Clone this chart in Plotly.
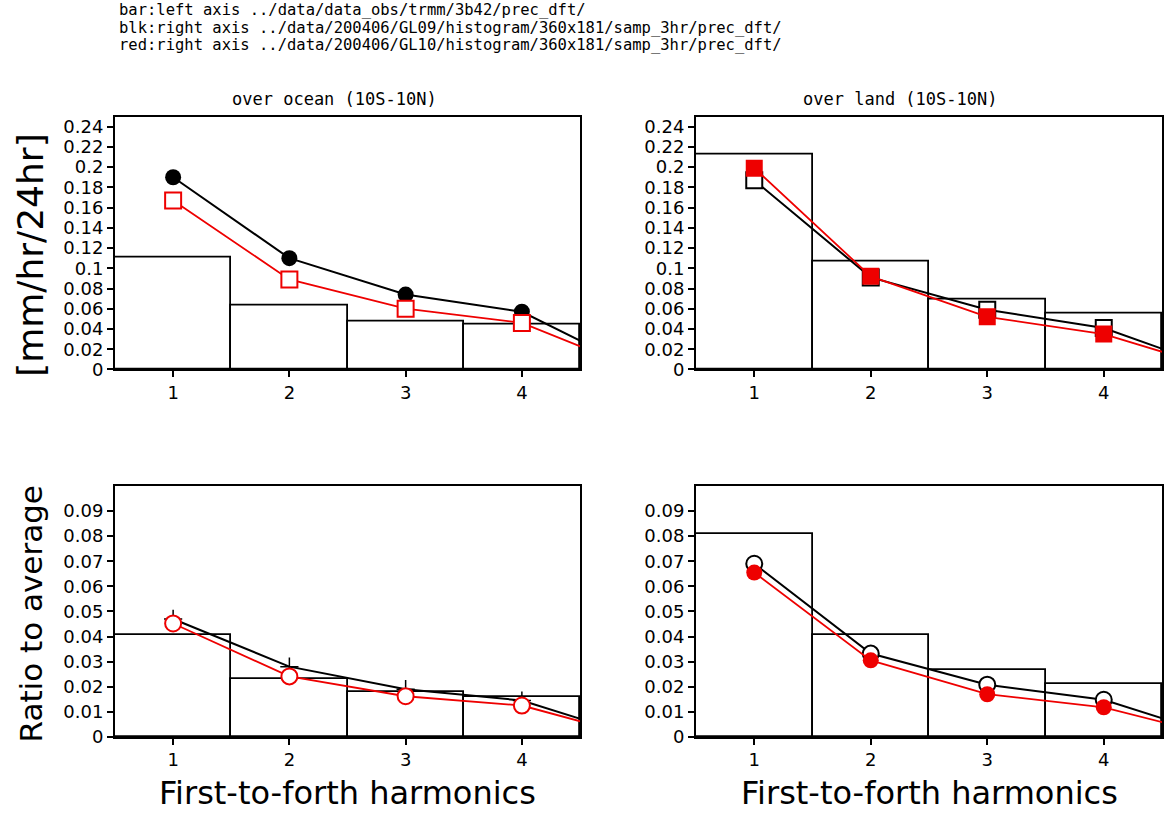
import plotly.graph_objects as go

# Harmonic number (5th harmonic is zero and falls just outside the axis)
harmonics = [1, 2, 3, 4, 5]
bar_harmonics = [1, 2, 3, 4]

# over ocean (10S-10N), mm/hr/24hr
ocean_bar = [0.111, 0.063, 0.047, 0.044]
ocean_blk = [0.190, 0.110, 0.074, 0.057, 0.0]
ocean_red = [0.167, 0.089, 0.060, 0.046, 0.0]

# over land (10S-10N), mm/hr/24hr
land_bar = [0.212, 0.107, 0.069, 0.055]
land_blk = [0.187, 0.091, 0.059, 0.041, 0.0]
land_red = [0.199, 0.092, 0.052, 0.035, 0.0]

# ratio to average, ocean
ocean_ratio_bar = [0.0405, 0.0232, 0.0178, 0.0160]
ocean_ratio_blk = [0.0470, 0.0280, 0.0190, 0.0145, 0.0]
ocean_ratio_red = [0.0452, 0.0241, 0.0162, 0.0125, 0.0]

# ratio to average, land
land_ratio_bar = [0.0810, 0.0405, 0.0265, 0.0210]
land_ratio_blk = [0.0690, 0.0332, 0.0208, 0.0148, 0.0]
land_ratio_red = [0.0655, 0.0305, 0.0170, 0.0118, 0.0]

top_ticks = [0, 0.02, 0.04, 0.06, 0.08, 0.1, 0.12, 0.14, 0.16, 0.18, 0.2, 0.22, 0.24]
top_ticktext = ["0", "0.02", "0.04", "0.06", "0.08", "0.1", "0.12", "0.14",
                "0.16", "0.18", "0.2", "0.22", "0.24"]
bot_ticks = [0, 0.01, 0.02, 0.03, 0.04, 0.05, 0.06, 0.07, 0.08, 0.09]
bot_ticktext = ["0", "0.01", "0.02", "0.03", "0.04", "0.05", "0.06", "0.07", "0.08", "0.09"]
x_ticks = [1, 2, 3, 4]
x_ticktext = ["1", "2", "3", "4"]

header_lines = [
    "bar:left axis ../data/data_obs/trmm/3b42/prec_dft/",
    "blk:right axis ../data/200406/GL09/histogram/360x181/samp_3hr/prec_dft/",
    "red:right axis ../data/200406/GL10/histogram/360x181/samp_3hr/prec_dft/",
]
panel_titles = ["over ocean (10S-10N)", "over land (10S-10N)"]

W, H = 1175, 818
FONT = "DejaVu Sans, Liberation Sans, Arial, sans-serif"
MONO = "DejaVu Sans Mono, Liberation Mono, monospace"
RED = "#ee0000"


def px_x(x):
    return x / W


def px_y(y):
    return 1 - y / H


fig = go.Figure()

# panel boxes in pixel coordinates: (left, right, top, bottom)
panels = {
    "1": (115, 580, 118, 374),
    "2": (696, 1162, 118, 374),
    "3": (115, 580, 492, 746),
    "4": (696, 1162, 492, 746),
}


def add_panel(idx, bars, blk, red, blk_marker, red_marker):
    xa = "x" if idx == "1" else "x" + idx
    ya = "y" if idx == "1" else "y" + idx
    fig.add_trace(go.Bar(
        x=bar_harmonics, y=bars, width=1.0, xaxis=xa, yaxis=ya,
        marker=dict(color="white", line=dict(color="black", width=1.8)),
        showlegend=False, hoverinfo="skip"))
    fig.add_trace(go.Scatter(
        x=harmonics, y=blk, xaxis=xa, yaxis=ya, mode="lines+markers",
        line=dict(color="black", width=2), marker=blk_marker,
        showlegend=False))
    fig.add_trace(go.Scatter(
        x=harmonics, y=red, xaxis=xa, yaxis=ya, mode="lines+markers",
        line=dict(color=RED, width=1.8), marker=red_marker,
        showlegend=False))


add_panel("1", ocean_bar, ocean_blk, ocean_red,
          dict(symbol="circle", size=16, color="black"),
          dict(symbol="square", size=16, color="white", line=dict(color=RED, width=2)))
add_panel("2", land_bar, land_blk, land_red,
          dict(symbol="square", size=16, color="white", line=dict(color="black", width=2)),
          dict(symbol="square", size=17, color=RED))
add_panel("3", ocean_ratio_bar, ocean_ratio_blk, ocean_ratio_red,
          dict(symbol="cross-thin", size=13, color="black", line=dict(color="black", width=1.5)),
          dict(symbol="circle", size=16, color="white", line=dict(color=RED, width=2)))
add_panel("4", land_ratio_bar, land_ratio_blk, land_ratio_red,
          dict(symbol="circle", size=16, color="white", line=dict(color="black", width=2)),
          dict(symbol="circle", size=16, color=RED))

tick_font = dict(family=FONT, size=18, color="black")
layout = dict(
    width=W, height=H, margin=dict(l=0, r=0, t=0, b=0),
    paper_bgcolor="white", plot_bgcolor="white", bargap=0,
)
for idx, (l, r, t, b) in panels.items():
    xkey = "xaxis" if idx == "1" else "xaxis" + idx
    ykey = "yaxis" if idx == "1" else "yaxis" + idx
    anchor_x = "y" if idx == "1" else "y" + idx
    anchor_y = "x" if idx == "1" else "x" + idx
    top = idx in ("1", "2")
    layout[xkey] = dict(
        domain=[px_x(l), px_x(r)], anchor=anchor_x, range=[0.5, 4.5],
        tickvals=x_ticks, ticktext=x_ticktext, ticks="outside", ticklen=6,
        tickwidth=2, tickcolor="black", showline=True, linecolor="black",
        linewidth=2, mirror=True, showgrid=False, zeroline=False,
        tickfont=tick_font, fixedrange=True)
    layout[ykey] = dict(
        domain=[px_y(b), px_y(t)], anchor=anchor_y,
        range=[0, 0.25] if top else [0, 0.1],
        tickvals=top_ticks if top else bot_ticks,
        ticktext=top_ticktext if top else bot_ticktext,
        ticks="outside", ticklen=6, tickwidth=2, tickcolor="black",
        showline=True, linecolor="black", linewidth=2, mirror=True,
        showgrid=False, zeroline=False, tickfont=tick_font, fixedrange=True)

annotations = []
for i, line in enumerate(header_lines):
    annotations.append(dict(
        x=px_x(117), y=px_y(10 + 18 * i), xref="paper", yref="paper",
        xanchor="left", yanchor="middle", showarrow=False, text=line,
        font=dict(family=MONO, size=15.5, color="black")))
for cx, title in zip([334, 900], panel_titles):
    annotations.append(dict(
        x=px_x(cx), y=px_y(100), xref="paper", yref="paper",
        xanchor="center", yanchor="middle", showarrow=False, text=title,
        font=dict(family=MONO, size=17, color="black")))
annotations.append(dict(
    x=px_x(31), y=px_y(258), xref="paper", yref="paper", textangle=-90,
    xanchor="center", yanchor="middle", showarrow=False,
    text="[mm/hr/24hr]", font=dict(family=FONT, size=36, color="black")))
annotations.append(dict(
    x=px_x(31), y=px_y(622), xref="paper", yref="paper", textangle=-90,
    xanchor="center", yanchor="middle", showarrow=False,
    text="Ratio to average", font=dict(family=FONT, size=31, color="black")))
for cx in [347, 929]:
    annotations.append(dict(
        x=px_x(cx), y=px_y(803), xref="paper", yref="paper",
        xanchor="center", yanchor="middle", showarrow=False,
        text="First-to-forth harmonics", font=dict(family=FONT, size=32, color="black")))
layout["annotations"] = annotations

fig.update_layout(**layout)
fig.write_html("out.html")
